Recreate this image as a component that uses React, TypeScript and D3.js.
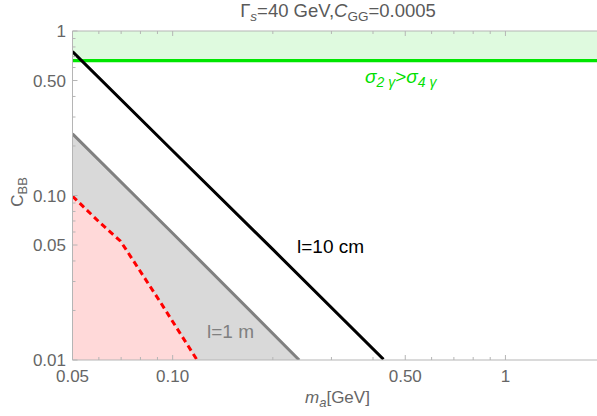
import React, { useEffect, useRef } from "react";
import * as d3 from "d3";

// axis ticks
const xMajor = [0.05, 0.1, 0.5, 1];
const xMajorLabels = ["0.05", "0.10", "0.50", "1"];
const xMinor = [0.06, 0.07, 0.08, 0.09, 0.2, 0.3, 0.4, 0.6, 0.7, 0.8, 0.9, 2];
const yMajor = [0.01, 0.05, 0.1, 0.5, 1];
const yMajorLabels = ["0.01", "0.05", "0.10", "0.50", "1"];
const yMinor = [0.02, 0.03, 0.04, 0.06, 0.07, 0.08, 0.09, 0.2, 0.3, 0.4, 0.6, 0.7, 0.8, 0.9];

// decay length l = 10 cm (black)
const mass10cm = [0.05, 0.1, 0.2, 0.43];
const cbb10cm = [0.75, 0.187, 0.047, 0.0101];

// decay length l = 1 m (gray, shaded below)
const mass1m = [0.05, 0.1, 0.24];
const cbb1m = [0.237, 0.059, 0.01];

// red dashed bound (shaded below)
const massRed = [0.05, 0.0606, 0.0696, 0.0726, 0.0918, 0.1184];
const cbbRed = [0.099, 0.068, 0.0529, 0.0466, 0.0225, 0.01];

// sigma_2gamma > sigma_4gamma above this value
const photonBound = 0.66;

const font = "'Liberation Sans', Arial, sans-serif";

function App() {
    const ref = useRef<SVGSVGElement>(null);

    useEffect(() => {
        draw();
    }, []);

    const draw = () => {
        const svg = d3.select(ref.current);
        svg.selectAll("*").remove();

        const x = d3.scaleLog().domain([0.05, 2]).range([72.5, 605.6]);
        const y = d3.scaleLog().domain([0.01, 1]).range([360, 31]);
        const [x0, x1] = x.range();
        const [yb, yt] = y.range();

        svg.append("defs").append("clipPath").attr("id", "plot")
            .append("rect").attr("x", x0).attr("y", yt).attr("width", x1 - x0).attr("height", yb - yt);

        const g = svg.append("g").attr("clip-path", "url(#plot)");

        const toPts = (ms: number[], cs: number[]) => ms.map((m, i) => [m, cs[i]] as [number, number]);

        // green band
        const band = d3.area<number>().x(d => x(d)).y0(y(photonBound)).y1(y(1));
        g.append("path").datum(x.domain()).attr("d", band).attr("fill", "#dffadf");

        const under = d3.area<[number, number]>().x(d => x(d[0])).y0(yb).y1(d => y(d[1]));
        const line = d3.line<[number, number]>().x(d => x(d[0])).y(d => y(d[1]));

        g.append("path").datum(toPts(mass1m, cbb1m)).attr("d", under).attr("fill", "#d9d9d9");
        g.append("path").datum(toPts(massRed, cbbRed)).attr("d", under).attr("fill", "#ffd9d9");

        g.append("path").datum(toPts(mass1m, cbb1m)).attr("d", line)
            .attr("fill", "none").attr("stroke", "#808080").attr("stroke-width", 3);
        g.append("path").datum(toPts(massRed, cbbRed)).attr("d", line)
            .attr("fill", "none").attr("stroke", "#ff0000").attr("stroke-width", 3)
            .attr("stroke-dasharray", "6,4");

        g.append("path").datum(x.domain()).attr("d", d3.line<number>().x(d => x(d)).y(y(photonBound)))
            .attr("stroke", "#00e600").attr("stroke-width", 3.2).attr("fill", "none");

        g.append("path").datum(toPts(mass10cm, cbb10cm)).attr("d", line)
            .attr("fill", "none").attr("stroke", "#000").attr("stroke-width", 3);

        // frame
        const axisColor = "#b5b5b5";
        const fr = svg.append("g").attr("stroke", axisColor).attr("stroke-width", 1);
        fr.append("line").attr("x1", x0).attr("x2", x1).attr("y1", yb).attr("y2", yb);
        fr.append("line").attr("x1", x0).attr("x2", x1).attr("y1", yt).attr("y2", yt);
        fr.append("line").attr("x1", x0).attr("x2", x0).attr("y1", yt).attr("y2", yb);

        const xt = [...xMajor.map(v => [v, 5]), ...xMinor.map(v => [v, 3])];
        fr.selectAll(".xb").data(xt).join("line")
            .attr("x1", d => x(d[0])).attr("x2", d => x(d[0]))
            .attr("y1", yb).attr("y2", d => yb - d[1]);
        fr.selectAll(".xt").data(xt).join("line")
            .attr("x1", d => x(d[0])).attr("x2", d => x(d[0]))
            .attr("y1", yt).attr("y2", d => yt + d[1]);
        const yts = [...yMajor.map(v => [v, 5]), ...yMinor.map(v => [v, 3])];
        fr.selectAll(".yl").data(yts).join("line")
            .attr("y1", d => y(d[0])).attr("y2", d => y(d[0]))
            .attr("x1", x0).attr("x2", d => x0 + d[1]);

        const labelColor = "#666";
        svg.append("g").selectAll("text").data(xMajor).join("text")
            .attr("x", d => x(d)).attr("y", 382).attr("text-anchor", "middle")
            .attr("font-family", font).attr("font-size", 17).attr("fill", labelColor)
            .text((d, i) => xMajorLabels[i]);
        svg.append("g").selectAll("text").data(yMajor).join("text")
            .attr("x", 66).attr("y", d => y(d) + 6).attr("text-anchor", "end")
            .attr("font-family", font).attr("font-size", 17).attr("fill", labelColor)
            .text((d, i) => yMajorLabels[i]);

        // rich text helper: [text, italic, shift]
        const rich = (sel: any, parts: [string, boolean, number][], subSize: number) => {
            let prev = 0;
            parts.forEach(([t, it, sh]) => {
                const ts = sel.append("tspan").text(t).attr("dy", sh - prev);
                if (it) ts.attr("font-style", "italic");
                if (sh !== 0) ts.attr("font-size", subSize);
                prev = sh;
            });
        };

        const title = svg.append("text").attr("x", 338).attr("y", 17).attr("text-anchor", "middle")
            .attr("font-family", font).attr("font-size", 18.5).attr("fill", "#5a5a5a");
        rich(title, [["Γ", false, 0], ["s", true, 4], ["=40 GeV,", false, 0], ["C", true, 0], ["GG", false, 4], ["=0.0005", false, 0]], 13.5);

        const xl = svg.append("text").attr("x", 305).attr("y", 403)
            .attr("font-family", font).attr("font-size", 17).attr("fill", labelColor);
        rich(xl, [["m", true, 0], ["a", true, 4], ["[GeV]", false, 0]], 13);

        const yl = svg.append("text").attr("transform", "translate(23,192) rotate(-90)").attr("text-anchor", "middle")
            .attr("font-family", font).attr("font-size", 17).attr("fill", labelColor);
        rich(yl, [["C", false, 0], ["BB", false, 4]], 13);

        const sg = svg.append("text").attr("x", 365).attr("y", 83)
            .attr("font-family", font).attr("font-size", 19).attr("fill", "#00e000");
        rich(sg, [["σ", true, 0], ["2 γ", true, 4], [">", false, 0], ["σ", true, 0], ["4 γ", true, 4]], 14);

        svg.append("text").attr("x", 297).attr("y", 252.5)
            .attr("font-family", font).attr("font-size", 19).attr("fill", "#000").text("l=10 cm");
        svg.append("text").attr("x", 207).attr("y", 338)
            .attr("font-family", font).attr("font-size", 19).attr("fill", "#808080").text("l=1 m");
    };

    return (
        <div>
            <svg ref={ref} width={597} height={416}
                 style={{ position: "absolute", left: 0, top: 0, background: "#fff" }} />
        </div>
    );
}

export default App;
